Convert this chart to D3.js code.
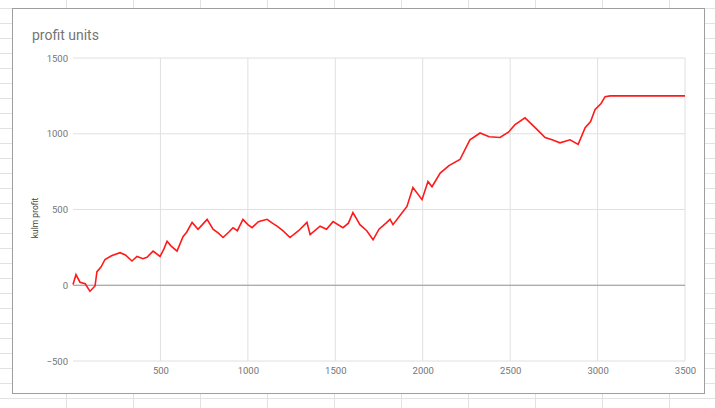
<!DOCTYPE html>
<html><head><meta charset="utf-8">
<script src="https://cdn.jsdelivr.net/npm/d3@7.9.0/dist/d3.min.js"></script>
<style>body{margin:0;background:#fff;font-family:Roboto,Arial,sans-serif}</style>
</head><body><svg id="chart" width="715" height="408"></svg>
<script>
const units = [0,17,40,70,97,126,137,160,183,220,269,300,337,366,400,423,458,498,520,538,560,595,629,650,681,715,740,767,801,830,858,890,915,940,972,1000,1024,1060,1110,1140,1167,1200,1241,1290,1338,1356,1413,1450,1487,1544,1575,1601,1641,1680,1716,1750,1790,1813,1830,1870,1910,1944,1996,2030,2053,2100,2150,2213,2270,2328,2380,2442,2490,2528,2585,2643,2700,2740,2785,2843,2889,2929,2960,2986,3020,3043,3072,3500];
const profit = [5,70,20,10,-40,-5,90,120,170,195,215,200,160,190,175,185,225,190,240,290,260,225,320,350,415,370,400,435,370,345,315,350,380,360,435,400,380,420,435,410,390,360,315,360,415,335,390,370,420,380,410,480,400,360,300,370,410,435,400,460,520,645,565,685,650,740,790,830,960,1005,980,975,1010,1060,1105,1040,975,960,940,960,930,1040,1080,1160,1200,1245,1250,1250];
const xTicks = [500,1000,1500,2000,2500,3000,3500];
const yTicks = [-500,0,500,1000,1500];

const svg = d3.select('#chart');
// spreadsheet background
const bg = svg.append('g').attr('stroke', '#e2e2e2');
d3.range(8, 408, 15).forEach(y => bg.append('line').attr('x1', 0).attr('x2', 715).attr('y1', y + 0.5).attr('y2', y + 0.5));
d3.range(66, 715, 67).forEach(x => bg.append('line').attr('y1', 0).attr('y2', 408).attr('x1', x + 0.5).attr('x2', x + 0.5));

svg.append('rect').attr('x', 12.5).attr('y', 8.5).attr('width', 692).attr('height', 385)
  .attr('fill', '#fff').attr('stroke', '#9e9e9e');

const x = d3.scaleLinear().domain([0, 3500]).range([73, 685]);
const y = d3.scaleLinear().domain([-500, 1500]).range([361, 58]);

const grid = svg.append('g').attr('stroke', '#e0e0e0');
xTicks.forEach(t => grid.append('line').attr('x1', x(t)).attr('x2', x(t)).attr('y1', y(1500)).attr('y2', y(-500)));
yTicks.forEach(t => grid.append('line').attr('x1', x(0)).attr('x2', x(3500)).attr('y1', y(t)).attr('y2', y(t)));

svg.append('g').attr('transform', `translate(0,${y(-500)})`)
  .call(d3.axisBottom(x).tickValues(xTicks).tickFormat(d3.format('d')).tickSize(0).tickPadding(6))
  .call(g => g.select('.domain').remove())
  .selectAll('text').attr('fill', '#757575').style('font-size', '9.5px').style('font-family', 'Roboto');
svg.append('g').attr('transform', `translate(${x(0)},0)`)
  .call(d3.axisLeft(y).tickValues(yTicks).tickFormat(d3.format('d')).tickSize(0).tickPadding(5))
  .call(g => g.select('.domain').remove())
  .selectAll('text').attr('fill', '#757575').style('font-size', '9.5px').style('font-family', 'Roboto');

svg.append('line').attr('x1', x(0)).attr('x2', x(3500)).attr('y1', y(0)).attr('y2', y(0))
  .attr('stroke', '#999').attr('stroke-width', 1.2);

svg.append('path').datum(units.map((u, i) => [u, profit[i]]))
  .attr('fill', 'none').attr('stroke', '#ff1a1a').attr('stroke-width', 1.6)
  .attr('d', d3.line().x(d => x(d[0])).y(d => y(d[1])));

svg.append('text').attr('x', 32).attr('y', 40).text('profit units')
  .attr('fill', '#757575').style('font-size', '14px');
svg.append('text').attr('transform', 'translate(38,218) rotate(-90)').attr('text-anchor', 'middle')
  .text('kulm profit').attr('fill', '#444').style('font-size', '8.5px');
</script></body></html>
